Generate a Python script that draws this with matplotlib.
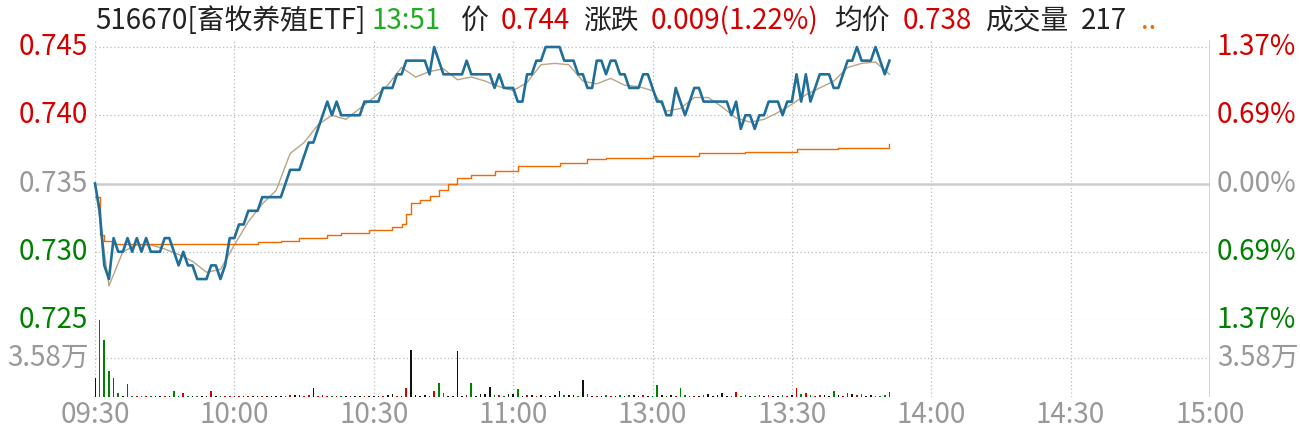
import matplotlib
matplotlib.use("Agg")
import matplotlib.pyplot as plt
import numpy as np

plt.rcParams['font.family'] = ['Noto Sans CJK SC', 'DejaVu Sans']

prev_close = 0.735
price = [0.735,0.733,0.729,0.728,0.731,0.730,0.730,0.731,0.730,0.731,
         0.730,0.731,0.730,0.730,0.730,0.731,0.731,0.730,0.729,0.730,
         0.729,0.729,0.728,0.728,0.728,0.729,0.729,0.728,0.729,0.731,
         0.731,0.732,0.732,0.733,0.733,0.733,0.734,0.734,0.734,0.734,
         0.734,0.735,0.736,0.736,0.736,0.737,0.738,0.738,0.739,0.740,
         0.741,0.740,0.741,0.740,0.740,0.740,0.740,0.740,0.741,0.741,
         0.741,0.741,0.742,0.742,0.742,0.743,0.743,0.744,0.744,0.744,
         0.744,0.744,0.743,0.745,0.744,0.743,0.743,0.743,0.743,0.743,
         0.744,0.743,0.743,0.743,0.743,0.743,0.742,0.743,0.742,0.742,
         0.742,0.741,0.741,0.743,0.743,0.744,0.744,0.745,0.745,0.745,
         0.745,0.744,0.744,0.744,0.743,0.743,0.742,0.742,0.744,0.744,
         0.743,0.744,0.744,0.743,0.743,0.742,0.742,0.742,0.743,0.743,
         0.742,0.741,0.741,0.740,0.740,0.742,0.741,0.740,0.741,0.742,
         0.742,0.741,0.741,0.741,0.741,0.741,0.741,0.740,0.741,0.739,
         0.740,0.740,0.739,0.740,0.740,0.741,0.741,0.741,0.740,0.741,
         0.741,0.743,0.741,0.743,0.741,0.742,0.743,0.743,0.743,0.742,
         0.742,0.743,0.744,0.744,0.745,0.744,0.744,0.744,0.745,0.744,
         0.743,0.744]

tan_min = [0,3,6,9,12,15,18,21,24,27,30,33,36,39,42,45,48,51,54,57,60,63,66,69,72,75,78,81,84,87,
           90,93,96,99,102,105,108,111,114,117,120,123,126,129,132,135,138,141,144,147,150,153,156,159,162,165,168,171]
tan_val = [.7350,.7275,.7300,.7305,.7305,.7302,.7298,.7293,.7285,.7287,.7305,.7322,.7335,.7345,.7372,.7380,.7393,.7400,.7397,.7405,
           .7413,.7422,.7435,.7428,.7432,.7434,.7426,.7428,.7425,.7421,.7418,.7424,.7437,.7438,.7437,.7425,.7423,.7427,.7422,.7421,
           .7418,.7403,.7405,.7413,.7413,.7406,.7398,.7395,.7397,.7402,.7408,.7415,.7420,.7425,.7435,.7438,.7439,.7430]

avg_min = [0,1,2,4,10,20,30,35,40,44,50,53,59,64,66,67,68,70,72,74,76,78,81,86,91,100,106,110,120,130,140,151,160,171]
avg_val = [.7340,.7312,.7308,.7306,.7306,.7306,.7306,.7307,.7308,.7310,.7312,.7314,.7316,.7318,.7320,.7328,.7336,.7338,.7341,.7345,
           .7350,.7354,.7356,.7359,.7363,.7365,.7368,.7369,.7370,.7372,.7373,.7375,.7376,.7379]

volume = [1.74,7.19,5.23,2.43,1.74,0.40,0.10,1.18,0.08,0.08,
          0.08,0.06,0.08,0.10,0.08,0.08,0.12,0.53,0.08,0.40,
          0.08,0.08,0.06,0.08,0.08,0.53,0.10,0.12,0.08,0.08,
          0.10,0.08,0.06,0.08,0.06,0.08,0.06,0.08,0.08,0.06,
          0.08,0.10,0.20,0.15,0.18,0.12,0.20,0.80,0.10,0.20,
          0.08,0.10,0.06,0.08,0.06,0.08,0.06,0.08,0.10,0.08,
          0.06,0.10,0.08,0.20,0.30,0.10,0.08,0.80,4.36,0.15,
          0.10,0.15,0.10,0.53,1.28,0.40,0.08,0.10,4.20,0.10,
          0.15,1.30,0.10,0.30,0.25,0.90,0.15,0.20,0.10,0.30,
          0.25,0.70,0.10,0.20,0.15,0.10,0.15,0.10,0.08,0.15,
          0.53,0.15,0.20,0.15,0.10,1.55,0.30,0.10,0.08,0.10,
          0.15,0.08,0.10,0.20,0.10,0.15,0.20,0.10,0.20,0.08,
          0.10,1.10,0.20,0.10,0.15,0.10,0.80,0.20,0.10,0.08,
          0.10,0.15,0.30,0.10,0.20,0.40,0.10,0.10,0.43,0.10,
          0.15,0.10,0.08,0.20,0.10,0.15,0.10,0.08,0.20,0.10,
          0.15,0.80,0.30,0.40,0.20,0.10,0.15,0.20,0.10,0.53,
          0.20,0.10,0.40,0.30,0.20,0.30,0.10,0.15,0.10,0.10,
          0.15,0.43]

xtick_labels = ['09:30','10:00','10:30','11:00','13:00','13:30','14:00','14:30','15:00']
price_ticks = [0.745, 0.740, 0.735, 0.730, 0.725]
pct_labels = ['1.37%', '0.69%', '0.00%', '0.69%', '1.37%']
vol_tick = 3.58

RED, GREEN, GRAY = '#d40000', '#008000', '#999999'
tick_colors = [RED, RED, GRAY, GREEN, GREEN]
FS = 20

W, H = 1300, 436
fig = plt.figure(figsize=(13, 4.36), dpi=100)
x0, x1 = 95 / W, 1210 / W
yp_top, yp_bot, yv_bot = 40, 320, 397
axp = fig.add_axes([x0, 1 - yp_bot / H, x1 - x0, (yp_bot - yp_top) / H])
axv = fig.add_axes([x0, 1 - yv_bot / H, x1 - x0, (yv_bot - yp_bot) / H], sharex=axp)

minutes = np.arange(len(price))
for ax in (axp, axv):
    ax.set_xlim(0, 240)
    for s in ax.spines.values():
        s.set_visible(False)
    ax.tick_params(length=0)
    for i in range(0, 240, 30):
        ax.axvline(i, color='#bbbbbb', lw=0.9, ls=(0, (1, 2)), zorder=0)
    ax.axvline(240, color='#cccccc', lw=1.2, zorder=0)

px_per_unit = 13.65 / 0.001
axp.set_ylim(0.725, 0.745 + (47 - yp_top) / px_per_unit)
for p in price_ticks:
    if p == prev_close:
        axp.axhline(p, color='#cccccc', lw=1.8, zorder=0)
    else:
        axp.axhline(p, color='#bbbbbb', lw=0.9, ls=(0, (1, 2)), zorder=0)
axp.set_yticks([])
for p, c in zip(price_ticks, tick_colors):
    axp.text(-0.006, p, f'{p:.3f}', transform=axp.get_yaxis_transform(), ha='right', va='center',
             color=c, fontsize=FS)
for p, lab, c in zip(price_ticks, pct_labels, tick_colors):
    axp.text(1.006, p, lab, transform=axp.get_yaxis_transform(), ha='left', va='center',
             color=c, fontsize=FS)

axp.plot(tan_min, tan_val, color='#b8a585', lw=1.0, zorder=2, clip_on=False)
axp.plot(avg_min, avg_val, color='#ee6a00', lw=1.0, drawstyle='steps-post', zorder=2)
axp.plot(minutes, price, color='#1f6f9a', lw=1.9, zorder=3, clip_on=False)

vmax = vol_tick * (yv_bot - yp_bot) / (yv_bot - 358)
axv.set_ylim(0, vmax)
axv.axhline(vol_tick, color='#bbbbbb', lw=0.9, ls=(0, (1, 2)), zorder=0)
axv.set_yticks([])
axv.text(-0.006, vol_tick, '3.58万', transform=axv.get_yaxis_transform(), ha='right', va='center', color=GRAY, fontsize=FS)
axv.text(1.006, vol_tick, '3.58万', transform=axv.get_yaxis_transform(), ha='left', va='center', color=GRAY, fontsize=FS)
diff = np.diff(np.concatenate([[prev_close], price]))
colors = ['#111111' if d == 0 or i == 0 else (RED if d > 0 else GREEN) for i, d in enumerate(diff)]
axv.bar(minutes, volume, width=0.35, color=colors, zorder=2)
axv.set_xticks(range(0, 241, 30))
axv.set_xticklabels(xtick_labels, color=GRAY, fontsize=FS)
axv.tick_params(axis='x', pad=2)
plt.setp(axp.get_xticklabels(), visible=False)

# title (pieces chained left to right)
title_parts = [('516670[畜牧养殖ETF]', '#222222'), ('13:51', '#22aa22'), ('价', '#222222'),
               ('0.744', RED), ('涨跌', '#222222'), ('0.009(1.22%)', RED),
               ('均价', '#222222'), ('0.738', RED), ('成交量', '#222222'),
               ('217', '#222222'), ('..', '#ee6a00')]
gaps = [6, 20, 12, 14, 12, 16, 12, 14, 12, 14]
renderer = fig.canvas.get_renderer()
x = 95
for i, (t, c) in enumerate(title_parts):
    txt = fig.text(x / W, 1 - 21 / H, t, color=c, fontsize=FS, ha='left', va='center')
    bb = txt.get_window_extent(renderer=renderer)
    x += bb.width + (gaps[i] if i < len(gaps) else 0)

fig.savefig('out.png', dpi=100, facecolor='white')
